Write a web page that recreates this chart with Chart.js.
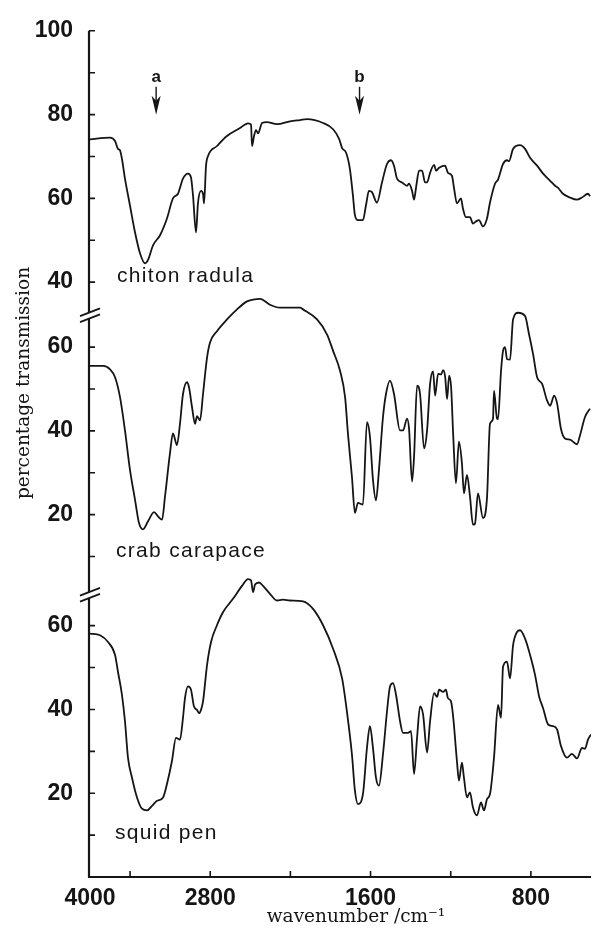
<!DOCTYPE html>
<html>
<head>
<meta charset="utf-8">
<script src="https://cdn.jsdelivr.net/npm/chart.js@4.4.1/dist/chart.umd.min.js"></script>
<style>
  html, body { margin: 0; padding: 0; background: #fff; }
  #wrap { width: 598px; height: 929px; }
</style>
</head>
<body>
<div id="wrap"><canvas id="irChart" width="598" height="929"></canvas></div>
<script>
// wavenumbers (cm-1) and percentage transmission
const chitonWave = [4000, 3800, 3750, 3721, 3701, 3681, 3651, 3601, 3551, 3501, 3451, 3421, 3371, 3301, 3232, 3172, 3122, 3072, 3022, 2992, 2972, 2942, 2922, 2892, 2872, 2862, 2842, 2822, 2733, 2633, 2503, 2423, 2393, 2383, 2363, 2343, 2323, 2283, 2234, 2134, 2004, 1952, 1917, 1837, 1787, 1757, 1742, 1722, 1703, 1688, 1678, 1663, 1638, 1623, 1608, 1593, 1568, 1543, 1518, 1498, 1483, 1468, 1443, 1418, 1408, 1393, 1383, 1373, 1358, 1343, 1328, 1318, 1303, 1283, 1273, 1258, 1228, 1214, 1194, 1184, 1169, 1149, 1139, 1124, 1104, 1089, 1074, 1059, 1039, 1019, 1004, 979, 964, 939, 919, 909, 889, 854, 829, 804, 769, 739, 704, 679, 664, 640, 605, 570, 545, 515, 505];
const chitonT = [74.1, 74.5, 73.7, 71.8, 71.5, 69.4, 64.7, 58.3, 51.9, 46.9, 44.5, 45.3, 48.8, 51.2, 55.2, 60, 61.1, 64.7, 65.9, 65, 60.7, 51.9, 59, 61.8, 61.1, 58.8, 67.8, 70.1, 72.5, 74.9, 76.8, 77.9, 77.6, 72.5, 74.9, 76.3, 75.5, 78, 78.2, 77.7, 78.4, 78.7, 78.9, 78, 76.5, 74.2, 72, 70.9, 67, 60.7, 56, 54.8, 54.8, 58.3, 61.8, 61.5, 59, 63.8, 68.2, 69.1, 67.8, 64.7, 63.8, 63, 63.5, 61.8, 59.7, 62.6, 66.6, 66.6, 63.8, 63.8, 66.1, 68, 66.6, 67.3, 67.8, 66.1, 65.4, 62.6, 58.8, 60, 57.6, 55.5, 55.5, 54, 54.5, 54.8, 53.3, 55.2, 59, 63.5, 64.5, 68.2, 69.1, 68.9, 71.8, 72.7, 71.8, 69.7, 67.8, 65.9, 64.2, 63, 62.5, 61.1, 60.2, 59.7, 60.2, 61.1, 60.5];

const crabWave = [4000, 3870, 3800, 3750, 3700, 3651, 3601, 3551, 3511, 3471, 3421, 3361, 3321, 3281, 3251, 3202, 3172, 3132, 3102, 3072, 3032, 3012, 2982, 2952, 2932, 2902, 2872, 2832, 2802, 2733, 2633, 2533, 2433, 2373, 2303, 2204, 2104, 2004, 1952, 1937, 1867, 1817, 1787, 1752, 1727, 1713, 1693, 1678, 1663, 1638, 1618, 1603, 1588, 1573, 1558, 1538, 1523, 1503, 1483, 1453, 1438, 1418, 1408, 1393, 1383, 1368, 1353, 1333, 1318, 1303, 1288, 1278, 1263, 1248, 1238, 1228, 1218, 1208, 1198, 1188, 1174, 1159, 1144, 1134, 1119, 1104, 1089, 1079, 1064, 1039, 1019, 1004, 989, 984, 969, 964, 949, 939, 929, 919, 904, 889, 864, 829, 809, 789, 769, 744, 719, 704, 684, 669, 650, 630, 605, 570, 555, 530, 505];
const crabT = [55.5, 55.5, 54.7, 52.8, 48, 40.1, 30.7, 23.6, 18, 16.5, 18.4, 20.6, 19.6, 18.8, 24.4, 34.6, 39.4, 36.6, 41.7, 48.8, 51.6, 50.4, 45.7, 41.7, 43.5, 42.5, 48.8, 57.5, 61.1, 63.8, 66.6, 69, 70.9, 71.3, 71.5, 70.1, 69.4, 69.4, 69.4, 69, 66.6, 63, 59.1, 54.3, 48, 39.4, 29.1, 20.4, 22.8, 22.4, 42.1, 38.6, 28.3, 23.4, 30.7, 43.3, 48.8, 52, 48.8, 40.1, 40.1, 42.9, 40.5, 27.9, 33.8, 50.8, 48.8, 35.8, 40.1, 51.2, 54.2, 48.4, 53.6, 53.5, 54.5, 53, 47.6, 53.2, 50.4, 39.4, 27.5, 37.4, 32.2, 25.1, 29.5, 24.4, 17.6, 17.8, 25.1, 19.2, 24, 41.7, 42.9, 49.6, 42.9, 42.8, 54.3, 59.1, 60, 57.1, 57, 66.6, 68.2, 67.4, 63, 58.3, 52.8, 51.2, 47.2, 46, 48.4, 46.5, 40.5, 38.2, 37.9, 36.8, 38.9, 43.3, 45.3];

const squidWave = [4000, 3900, 3820, 3750, 3721, 3681, 3651, 3621, 3581, 3531, 3481, 3431, 3381, 3331, 3271, 3232, 3182, 3142, 3102, 3072, 3052, 3022, 2992, 2962, 2932, 2912, 2892, 2872, 2832, 2792, 2733, 2673, 2573, 2483, 2423, 2393, 2373, 2353, 2313, 2273, 2204, 2134, 2074, 2004, 1937, 1887, 1837, 1787, 1742, 1718, 1693, 1678, 1663, 1638, 1618, 1603, 1588, 1573, 1558, 1538, 1518, 1503, 1488, 1473, 1453, 1438, 1413, 1398, 1383, 1368, 1353, 1338, 1318, 1303, 1283, 1268, 1258, 1238, 1224, 1214, 1199, 1189, 1169, 1159, 1144, 1134, 1119, 1104, 1089, 1069, 1049, 1034, 1019, 1004, 984, 964, 949, 939, 919, 904, 889, 869, 854, 829, 804, 779, 759, 739, 714, 689, 669, 650, 620, 595, 570, 545, 530, 515, 500];
const squidT = [58.1, 57.7, 56.1, 53, 49, 43.5, 37.2, 28.5, 23.7, 19, 16.3, 15.9, 17, 18.2, 19, 22.2, 27.7, 33.2, 32.8, 38, 42.7, 45.5, 44.7, 40.7, 39.9, 39.1, 39.9, 41.9, 50.6, 56.1, 60.1, 63.2, 66.4, 69.5, 71.1, 70.8, 68, 69.8, 70.3, 69.5, 67.6, 66, 66.2, 66, 65.8, 64, 60.1, 54.5, 47.4, 39.5, 29.3, 20.6, 17.4, 19.8, 30.8, 36, 30.8, 23.7, 21.8, 29.3, 39.5, 45.5, 46.3, 43.5, 37.2, 34.4, 34.4, 34.8, 24.6, 33.2, 40.7, 38.8, 29.7, 37.2, 43.9, 43, 44.7, 44.2, 44.7, 42.7, 42, 38.8, 27.7, 23, 27.3, 23.7, 19, 20.2, 16.6, 14.7, 17.8, 15.9, 18.6, 19.8, 28.5, 41.1, 38, 50.2, 51.4, 47.4, 55.3, 58.5, 58.9, 56.9, 53, 48.2, 43.1, 40.3, 36.4, 36, 35.2, 31.3, 28.5, 29.4, 28.3, 30.8, 30.6, 32.8, 34];

// axis ticks
const xTickWaves = [4000, 3600, 2800, 2000, 1600, 1200, 800];
const xTickLabels = [4000, 2800, 1600, 800];
const topLabels = [100, 80, 60, 40];
const topMinor = [90, 70, 50];
const midLabels = [60, 40, 20];
const midMinor = [50, 30, 10];
const lowLabels = [60, 40, 20];
const lowMinor = [50, 30, 10];

// stacking: each trace sits on the shared y axis with its own offset
const OFF_TOP = 102, OFF_MID = 66.5, OFF_LOW = 0;
const BREAKS = [134.0, 67.3];
const INK = '#151515';

// 4000-2000 is drawn at half the scale of 2000-500
function toAxis(w) { return w > 2000 ? 2000 + (w - 2000) / 2 : w; }
function fromAxis(u) { return u > 2000 ? 2000 + (u - 2000) * 2 : u; }

function trace(waves, vals, off) {
    return waves.map((w, i) => ({ x: toAxis(w), y: vals[i] + off }));
}

const yTicks = [];
topLabels.forEach(v => yTicks.push({ value: v + OFF_TOP, label: String(v) }));
midLabels.forEach(v => yTicks.push({ value: v + OFF_MID, label: String(v) }));
lowLabels.forEach(v => yTicks.push({ value: v + OFF_LOW, label: String(v) }));
const yMinor = [].concat(
    topMinor.map(v => v + OFF_TOP),
    midMinor.map(v => v + OFF_MID),
    lowMinor.map(v => v + OFF_LOW)
);

const irDecor = {
    id: 'irDecor',
    afterDraw(chart) {
        const { ctx, chartArea: a, scales: { x, y } } = chart;
        const xl = a.left - 1;
        ctx.save();
        ctx.strokeStyle = INK;
        ctx.fillStyle = INK;
        ctx.lineCap = 'butt';

        // axes, left one broken twice
        const cuts = BREAKS.map(u => y.getPixelForValue(u)).sort((p, q) => p - q);
        ctx.lineWidth = 2.2;
        ctx.beginPath();
        let from = a.top;
        cuts.forEach(c => { ctx.moveTo(xl, from); ctx.lineTo(xl, c - 3); from = c + 3; });
        ctx.moveTo(xl, from);
        ctx.lineTo(xl, a.bottom + 1);
        ctx.moveTo(xl - 1, a.bottom);
        ctx.lineTo(a.right, a.bottom);
        ctx.stroke();

        // break marks
        ctx.lineWidth = 1.8;
        cuts.forEach(c => {
            [-3, 3].forEach(d => {
                ctx.beginPath();
                ctx.moveTo(xl - 9, c + d + 3.5);
                ctx.lineTo(xl + 11, c + d - 4.2);
                ctx.stroke();
            });
        });

        // inward ticks
        ctx.lineWidth = 1.6;
        ctx.beginPath();
        yTicks.map(t => t.value).concat(yMinor).forEach(u => {
            const py = y.getPixelForValue(u);
            ctx.moveTo(xl, py);
            ctx.lineTo(xl + 6, py);
        });
        xTickWaves.slice(1).forEach(w => {
            const px = x.getPixelForValue(toAxis(w));
            ctx.moveTo(px, a.bottom);
            ctx.lineTo(px, a.bottom - 6);
        });
        ctx.stroke();

        // band markers a and b
        ctx.font = 'bold 17px "Liberation Sans", Arial, sans-serif';
        ctx.textAlign = 'center';
        ctx.textBaseline = 'alphabetic';
        [['a', 3340], ['b', 1655]].forEach(([txt, w]) => {
            const px = x.getPixelForValue(toAxis(w));
            ctx.fillText(txt, px, a.top + 51);
            ctx.lineWidth = 1.4;
            ctx.beginPath();
            ctx.moveTo(px, a.top + 56);
            ctx.lineTo(px, a.top + 78);
            ctx.stroke();
            ctx.beginPath();
            ctx.moveTo(px, a.top + 84);
            ctx.lineTo(px - 4.5, a.top + 65);
            ctx.lineTo(px, a.top + 70);
            ctx.lineTo(px + 4.5, a.top + 65);
            ctx.closePath();
            ctx.fill();
        });

        // trace names
        ctx.font = '21px "Liberation Sans", Arial, sans-serif';
        ctx.textAlign = 'left';
        ctx.letterSpacing = '1.3px';
        ctx.fillText('chiton radula', a.left + 27, 282);
        ctx.fillText('crab carapace', a.left + 26, 557);
        ctx.fillText('squid pen', a.left + 25, 839);
        ctx.letterSpacing = '0px';

        // axis titles
        ctx.font = '18.5px "DejaVu Serif", serif';
        ctx.textAlign = 'center';
        ctx.fillText('wavenumber /cm\u207B\u00B9', 356, 922);
        ctx.save();
        ctx.translate(29, 383);
        ctx.rotate(-Math.PI / 2);
        ctx.fillText('percentage transmission', 0, 0);
        ctx.restore();

        ctx.restore();
    }
};

const tickFont = { family: '"Liberation Sans", Arial, sans-serif', size: 23, weight: 'bold' };
const lineStyle = {
    borderColor: INK,
    backgroundColor: INK,
    borderWidth: 1.8,
    pointRadius: 0,
    cubicInterpolationMode: 'monotone',
    fill: false
};

new Chart(document.getElementById('irChart').getContext('2d'), {
    type: 'line',
    data: {
        datasets: [
            Object.assign({ label: 'chiton radula', data: trace(chitonWave, chitonT, OFF_TOP) }, lineStyle),
            Object.assign({ label: 'crab carapace', data: trace(crabWave, crabT, OFF_MID) }, lineStyle),
            Object.assign({ label: 'squid pen', data: trace(squidWave, squidT, OFF_LOW) }, lineStyle)
        ]
    },
    options: {
        responsive: false,
        animation: false,
        events: [],
        devicePixelRatio: 1,
        layout: { padding: { left: 0, right: 7, top: 24, bottom: 0 } },
        plugins: {
            legend: { display: false },
            tooltip: { enabled: false }
        },
        scales: {
            x: {
                type: 'linear',
                reverse: true,
                min: toAxis(500),
                max: toAxis(4000),
                grid: { display: false, drawTicks: false },
                border: { display: false },
                afterFit: s => { s.height = 52; },
                afterBuildTicks: s => { s.ticks = xTickWaves.map(w => ({ value: toAxis(w) })); },
                ticks: {
                    autoSkip: false,
                    maxRotation: 0,
                    padding: 8,
                    color: INK,
                    font: tickFont,
                    callback: v => {
                        const w = Math.round(fromAxis(v));
                        return xTickLabels.includes(w) ? String(w) : '';
                    }
                }
            },
            y: {
                type: 'linear',
                min: 0,
                max: 202,
                grid: { display: false, drawTicks: false },
                border: { display: false },
                afterFit: s => { s.width = 90; },
                afterBuildTicks: s => { s.ticks = yTicks.map(t => ({ value: t.value })); },
                ticks: {
                    autoSkip: false,
                    padding: 17,
                    color: INK,
                    font: tickFont,
                    callback: (v, i) => yTicks[i].label
                }
            }
        }
    },
    plugins: [irDecor]
});
</script>
</body>
</html>
